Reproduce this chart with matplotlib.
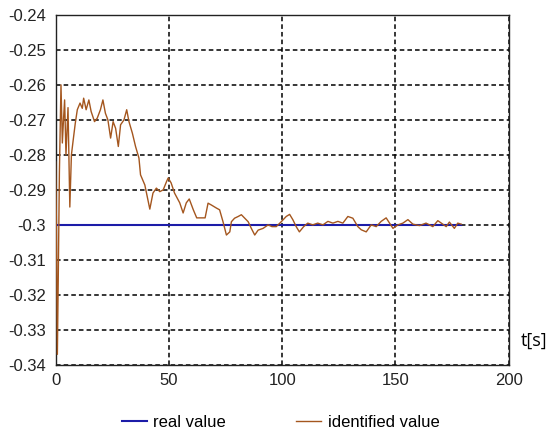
import matplotlib
matplotlib.use("Agg")
import matplotlib.pyplot as plt

# identified value
t_id = [0, 0.4, 0.8, 1.2, 1.7, 2.4, 3.0, 3.5, 4.0, 4.6, 5.5, 6.3, 7.0, 7.8, 8.7,
        9.6, 10.8, 11.8, 12.4, 13.5, 14.7, 15.7, 17.2, 18.4, 19.8, 20.9, 22.0,
        23.1, 24.3, 25.4, 26.5, 27.7, 28.7, 30.2, 31.4, 32.4, 33.9, 35.3, 36.8,
        37.5, 39.4, 41.6, 43.0, 44.5, 46.0, 47.5, 49.0, 49.7, 51.0, 52.5,
        54.8, 56.3, 57.7, 59.0, 60.8, 62.3, 63.8, 66.0, 67.3, 68.7, 71.0, 72.4,
        73.9, 75.4, 76.9, 77.6, 79.0, 80.6, 82.0, 83.5, 85.0, 86.4, 87.9, 89.4,
        91.6, 93.8, 95.5, 97.4, 99.6, 101.8, 103.3, 104.7, 106.2, 107.6, 109.5,
        111.3, 113.5, 115.7, 118.0, 120.2, 122.4, 124.6, 126.8, 129.0, 131.2,
        133.4, 134.9, 137.1, 139.3, 141.5, 143.7, 145.9, 147.4, 148.9, 151.1,
        153.3, 155.5, 157.7, 160.6, 163.5, 166.5, 168.7, 170.9, 172.4, 173.8,
        176.0, 177.5, 179.0]
v_id = [-0.282, -0.300, -0.337, -0.315, -0.285, -0.260, -0.2766, -0.270, -0.2643,
        -0.280, -0.2665, -0.2949, -0.280, -0.2757, -0.271,
        -0.2671, -0.2652, -0.2667, -0.2638, -0.2671, -0.2643, -0.2676, -0.2705,
        -0.2695, -0.2671, -0.2643, -0.2681, -0.2700, -0.2752, -0.2705, -0.2724,
        -0.2776, -0.2714, -0.2700, -0.2671, -0.2705, -0.2738, -0.2776, -0.2809,
        -0.2857, -0.2886, -0.2955, -0.2909, -0.2895, -0.2905, -0.2900, -0.2876,
        -0.2866, -0.2880, -0.2909, -0.2937, -0.2966, -0.2937, -0.2926, -0.2957,
        -0.2980, -0.2980, -0.2980, -0.2938, -0.2943, -0.2952, -0.2957, -0.2991,
        -0.3029, -0.3020, -0.2991, -0.2981, -0.2976, -0.2971, -0.2981, -0.2991,
        -0.3010, -0.3029, -0.3015, -0.3010, -0.3000, -0.3005, -0.3005, -0.2991,
        -0.2976, -0.2970, -0.2985, -0.3005, -0.3020, -0.3005, -0.2995, -0.3000,
        -0.2995, -0.3000, -0.2990, -0.2995, -0.2990, -0.2995, -0.2976, -0.2981,
        -0.3005, -0.3014, -0.3020, -0.3000, -0.3005, -0.2990, -0.2980, -0.2995,
        -0.3010, -0.3000, -0.2995, -0.2985, -0.2998, -0.3002, -0.2995, -0.3005,
        -0.2988, -0.2998, -0.3005, -0.2992, -0.3010, -0.2995, -0.2998]

# real value
t_real = [0, 179]
v_real = [-0.3, -0.3]

x_ticks = [0, 50, 100, 150, 200]
y_ticks = [-0.34, -0.33, -0.32, -0.31, -0.3, -0.29, -0.28, -0.27, -0.26, -0.25, -0.24]
y_labels = ["-0.34", "-0.33", "-0.32", "-0.31", "-0.3", "-0.29", "-0.28",
            "-0.27", "-0.26", "-0.25", "-0.24"]

plt.rcParams["font.family"] = ["Liberation Sans", "DejaVu Sans"]

fig = plt.figure(figsize=(5.5, 4.38), dpi=100)
ax = fig.add_axes([0.101, 0.167, 0.824, 0.799])

ax.plot(t_real, v_real, color="#1c1ca8", lw=1.5, label="real value", zorder=3)
ax.plot(t_id, v_id, color="#a4561e", lw=1.0, label="identified value", zorder=4)

ax.set_xlim(0, 200)
ax.set_ylim(-0.34, -0.24)
ax.set_xticks(x_ticks)
ax.set_yticks(y_ticks)
ax.set_yticklabels(y_labels)
ax.tick_params(axis="both", length=0, labelsize=12, colors="#222222")
ax.tick_params(axis="y", pad=7)
ax.tick_params(axis="x", pad=6)
ax.grid(True, color="black", linestyle=(0, (3, 2)), lw=1.1)
for s in ax.spines.values():
    s.set_linewidth(1.0)
    s.set_color("#222222")

fig.text(0.947, 0.222, "t[s]", fontsize=13, family=["Open Sans", "DejaVu Sans"],
         ha="left", va="center")

fig.legend(loc="center", bbox_to_anchor=(0.51, 0.035), ncol=2, frameon=False,
           fontsize=12, handlelength=1.5, columnspacing=4.2, handletextpad=0.4)

fig.savefig("out.png", dpi=100)
plt.close(fig)
